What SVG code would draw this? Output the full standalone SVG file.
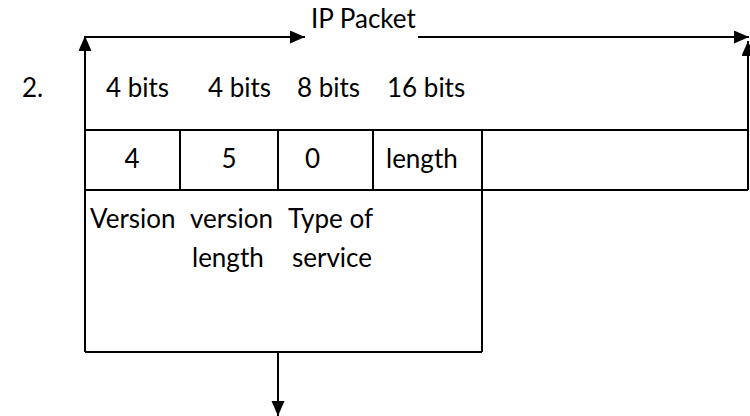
<svg xmlns="http://www.w3.org/2000/svg" width="750" height="416" viewBox="0 0 750 416">
<style>
  text { font-family: Lato, "Open Sans", "Liberation Sans", sans-serif; font-size: 26px; fill: #000; }
  .ln { stroke: #000; stroke-width: 2; fill: none; }
</style>
<defs>
  <marker id="ah" markerUnits="userSpaceOnUse" markerWidth="16" markerHeight="14" refX="15" refY="6.5" orient="auto">
    <path d="M0,0 L15,6.5 L0,13 Z" fill="#000"/>
  </marker>
</defs>
<rect width="750" height="416" fill="#fff"/>
<g id="label-2"><text x="22" y="97">2.</text></g>
<g id="ip-packet-label"><text x="311" y="28">IP Packet</text></g>
<g id="bits-row">
  <text x="106" y="97">4 bits</text>
  <text x="208" y="97">4 bits</text>
  <text x="297" y="97">8 bits</text>
  <text x="387" y="97">16 bits</text>
</g>
<g id="value-row">
  <line class="ln" x1="85" y1="130" x2="748" y2="130"/>
  <line class="ln" x1="85" y1="190" x2="748" y2="190"/>
  <line class="ln" x1="180" y1="130" x2="180" y2="190"/>
  <line class="ln" x1="278" y1="130" x2="278" y2="190"/>
  <line class="ln" x1="373" y1="130" x2="373" y2="190"/>
  <text x="132" y="168" text-anchor="middle">4</text>
  <text x="229" y="168" text-anchor="middle">5</text>
  <text x="305" y="168">0</text>
  <text x="386" y="168">length</text>
</g>
<g id="field-box">
  <line class="ln" x1="482" y1="130" x2="482" y2="352"/>
  <line class="ln" x1="85" y1="352" x2="482" y2="352"/>
  <text x="90" y="228">Version</text>
  <text x="190" y="228">version</text>
  <text x="288" y="228">Type of</text>
  <text x="192" y="267">length</text>
  <text x="292" y="267">service</text>
</g>
<g id="connectors">
  <line class="ln" x1="85" y1="352" x2="85" y2="36" marker-end="url(#ah)"/>
  <line class="ln" x1="85" y1="37" x2="305" y2="37" marker-end="url(#ah)"/>
  <line class="ln" x1="418" y1="37" x2="749" y2="37" marker-end="url(#ah)"/>
  <line class="ln" x1="748" y1="190" x2="748" y2="41" marker-end="url(#ah)"/>
  <line class="ln" x1="278" y1="352" x2="278" y2="416" marker-end="url(#ah)"/>
</g>
</svg>
